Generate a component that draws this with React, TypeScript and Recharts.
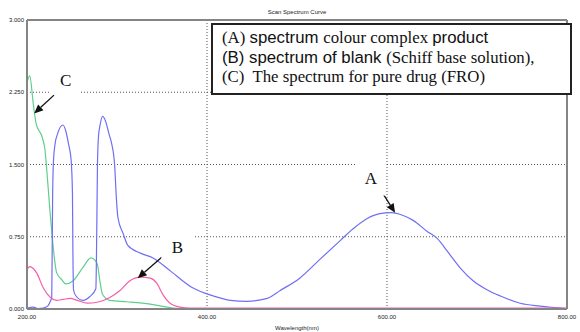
import { LineChart, Line, XAxis, YAxis, ReferenceLine, ReferenceDot } from 'recharts';

// (A) colour complex product
const wavelengthA = [
  200, 207, 212, 218, 223, 226, 227.5, 228.5, 229.5, 231, 234, 240, 243, 246, 249, 250.5, 251, 251.7,
  254, 262, 270, 276.5, 277.5, 278.3, 279.5, 281, 284, 288, 291, 294, 297.5, 299, 301, 307, 312, 326,
  340, 356, 362, 384, 407, 426, 444, 467, 481, 503, 526, 548, 562, 578, 592, 605, 618, 629, 644, 656,
  667, 681, 696, 711, 726, 748, 770, 800,
];
const absorbanceA = [
  0.01, 0.02, 0.005, 0.01, 0.03, 0.08, 0.12, 1.2, 1.55, 1.7, 1.82, 1.91, 1.85, 1.72, 1.55, 1.2, 0.6, 0.2,
  0.14, 0.09, 0.13, 0.21, 0.8, 1.5, 1.8, 1.9, 2.0, 1.93, 1.82, 1.72, 1.48, 1.2, 0.95, 0.78, 0.66, 0.58,
  0.53, 0.42, 0.375, 0.22, 0.135, 0.09, 0.08, 0.11, 0.19, 0.32, 0.52, 0.71, 0.83, 0.94, 0.99, 1.0, 0.97,
  0.92, 0.81, 0.73, 0.6, 0.43, 0.29, 0.2, 0.135, 0.06, 0.03, 0.005,
];

// (B) blank (Schiff base solution)
const wavelengthB = [
  200, 203, 207, 211, 218, 226, 233, 240, 248, 256, 267, 278, 292, 303, 314, 326, 337, 344, 351, 359,
  370, 381, 500, 650, 800,
];
const absorbanceB = [
  0.41, 0.44, 0.42, 0.37, 0.22, 0.12, 0.09, 0.1, 0.11, 0.09, 0.06, 0.07, 0.12, 0.19, 0.29, 0.33, 0.32,
  0.27, 0.15, 0.06, 0.02, 0.01, 0.01, 0.01, 0.01,
];

// (C) pure drug (FRO)
const wavelengthC = [
  200, 203, 207, 210, 217, 220, 222, 225.5, 228, 233, 239, 243, 251, 262, 271, 278, 281, 284, 292, 311,
  337, 362, 384,
];
const absorbanceC = [
  2.35, 2.42, 2.13, 1.93, 1.78, 1.65, 1.44, 1.02, 0.75, 0.375, 0.3, 0.26, 0.29, 0.43, 0.53, 0.47, 0.29,
  0.15, 0.09, 0.075, 0.05, 0.01, 0.0,
];

const xTicks = [200, 400, 600, 800];
const yTicks = [0, 0.75, 1.5, 2.25, 3];
const gridX = [400, 600];
const gridY = [0.75, 1.5, 2.25];

const BLUE = '#6f6ff5';
const PINK = '#f55fa6';
const GREEN = '#5fcf8c';
const FRAME = '#858585';
const GRID = '#555';

const toPoints = (xs: number[], ys: number[]) => xs.map((nm, i) => ({ nm, abs: ys[i] }));

const seriesA = toPoints(wavelengthA, absorbanceA);
const seriesB = toPoints(wavelengthB, absorbanceB);
const seriesC = toPoints(wavelengthC, absorbanceC);

// curve labels with their white patch, and arrows pointing at the curves
const labels = [
  { text: 'C', nm: 243, abs: 2.375, w: 30, h: 28 },
  { text: 'B', nm: 367, abs: 0.635, w: 32, h: 28 },
  { text: 'A', nm: 582, abs: 1.354, w: 30, h: 34 },
];
const arrows = [
  { from: [230, 2.22], to: [208, 2.03] },
  { from: [350, 0.54], to: [323, 0.32] },
  { from: [592, 1.25], to: [609, 1.0] },
];

function LabelPatch(props: any) {
  const { cx, cy, payload } = props;
  const { text, w, h } = payload;
  return (
    <g>
      <rect x={cx - w / 2} y={cy - h / 2} width={w} height={h} fill="#fff" />
      <text
        x={cx}
        y={cy}
        textAnchor="middle"
        dominantBaseline="central"
        fontFamily="'Liberation Serif', serif"
        fontSize={17}
        fill="#111"
      >
        {text}
      </text>
    </g>
  );
}

function Arrow(props: any) {
  const { x1, y1, x2, y2 } = props;
  const ang = Math.atan2(y2 - y1, x2 - x1);
  const len = 9;
  const half = 4;
  const bx = x2 - len * Math.cos(ang);
  const by = y2 - len * Math.sin(ang);
  const px = -Math.sin(ang) * half;
  const py = Math.cos(ang) * half;
  return (
    <g>
      <line x1={x1} y1={y1} x2={bx} y2={by} stroke="#111" strokeWidth={1.3} />
      <polygon points={`${x2},${y2} ${bx + px},${by + py} ${bx - px},${by - py}`} fill="#111" />
    </g>
  );
}

const tickStyle = { fontSize: 6, fill: '#222', fontFamily: "'Liberation Sans', Arial, sans-serif" };
const serif = "'Liberation Serif', 'Times New Roman', serif";
const sans = "'Liberation Sans', Arial, sans-serif";

export default function App() {
  return (
    <div style={{ position: 'relative', width: 580, height: 332, background: '#fff', fontFamily: sans }}>
      <style>{'body{margin:0}'}</style>
      <div
        style={{
          position: 'absolute',
          left: 27,
          width: 540,
          top: 9,
          textAlign: 'center',
          fontSize: 6,
          color: '#222',
        }}
      >
        Scan Spectrum Curve
      </div>
      <LineChart width={580} height={332} margin={{ top: 20, right: 13, bottom: 0, left: 0 }}>
        <XAxis
          type="number"
          dataKey="nm"
          domain={[200, 800]}
          ticks={xTicks}
          tickFormatter={(v: number) => v.toFixed(2)}
          tick={tickStyle}
          tickLine={false}
          tickSize={4}
          tickMargin={2}
          axisLine={{ stroke: FRAME, strokeWidth: 2 }}
          height={23}
          allowDataOverflow
          label={{ value: 'Wavelength(nm)', position: 'insideBottom', offset: 2, style: tickStyle }}
        />
        <YAxis
          type="number"
          domain={[0, 3]}
          ticks={yTicks}
          tickFormatter={(v: number) => v.toFixed(3)}
          tick={tickStyle}
          tickLine={false}
          tickSize={1}
          tickMargin={2}
          axisLine={{ stroke: FRAME, strokeWidth: 2 }}
          width={27}
          allowDataOverflow
        />
        {gridY.map((y) => (
          <ReferenceLine key={`gy${y}`} y={y} stroke={GRID} strokeDasharray="1 2" />
        ))}
        {gridX.map((x) => (
          <ReferenceLine key={`gx${x}`} x={x} stroke={GRID} strokeDasharray="1 2" />
        ))}
        <ReferenceLine y={3} stroke={FRAME} strokeWidth={2} />
        <ReferenceLine x={800} stroke={FRAME} strokeWidth={2} />
        {labels.map((l) => (
          <ReferenceDot
            key={l.text}
            x={l.nm}
            y={l.abs}
            r={1}
            shape={(p: any) => <LabelPatch {...p} payload={l} />}
          />
        ))}
        <Line data={seriesC} dataKey="abs" type="monotone" stroke={GREEN} strokeWidth={1.2} dot={false} isAnimationActive={false} />
        <Line data={seriesA} dataKey="abs" type="monotone" stroke={BLUE} strokeWidth={1.2} dot={false} isAnimationActive={false} />
        <Line data={seriesB} dataKey="abs" type="monotone" stroke={PINK} strokeWidth={1.2} dot={false} isAnimationActive={false} />
        {arrows.map((a, i) => (
          <ReferenceLine
            key={`ar${i}`}
            segment={[
              { x: a.from[0], y: a.from[1] },
              { x: a.to[0], y: a.to[1] },
            ]}
            shape={(p: any) => <Arrow {...p} />}
          />
        ))}
      </LineChart>
      <div
        style={{
          position: 'absolute',
          left: 211,
          top: 23,
          width: 348,
          height: 65,
          border: '2px solid #222',
          background: '#fff',
          padding: '3px 0 0 9px',
          boxSizing: 'content-box',
          fontSize: 16.8,
          lineHeight: '19.5px',
          color: '#111',
          whiteSpace: 'nowrap',
        }}
      >
        <div>
          <span style={{ fontFamily: serif }}>(A) </span>
          <span style={{ fontFamily: sans }}>spectrum </span>
          <span style={{ fontFamily: serif }}>colour complex </span>
          <span style={{ fontFamily: sans }}>product</span>
        </div>
        <div>
          <span style={{ fontFamily: sans }}>(B) spectrum of blank </span>
          <span style={{ fontFamily: serif }}>(Schiff base solution),</span>
        </div>
        <div style={{ fontFamily: serif }}>(C)&nbsp; The spectrum for pure drug (FRO)</div>
      </div>
    </div>
  );
}
